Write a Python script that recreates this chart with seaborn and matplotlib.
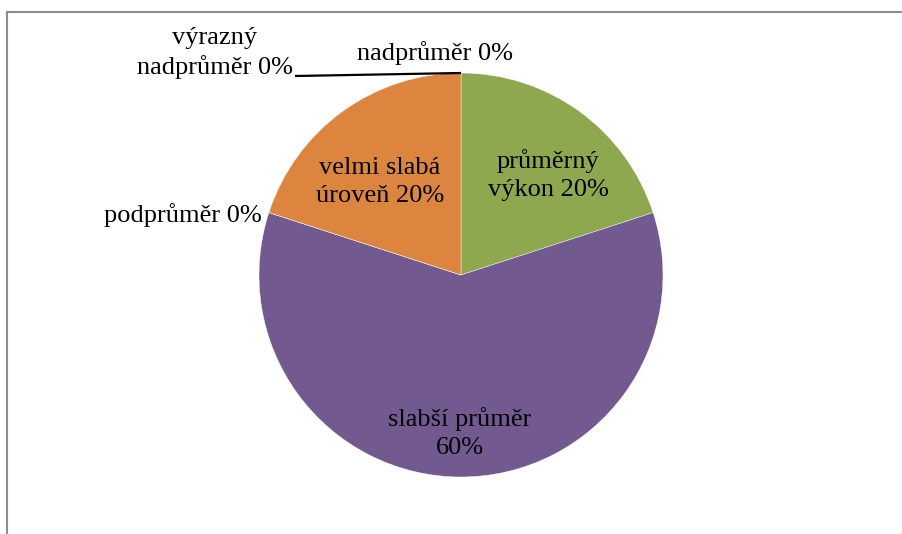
import numpy as np
import matplotlib
matplotlib.use("Agg")
import matplotlib.pyplot as plt
import seaborn as sns
from matplotlib.lines import Line2D

# data (clockwise from 12 o'clock)
categories = ["výrazný nadprůměr", "nadprůměr", "průměrný výkon",
              "slabší průměr", "podprůměr", "velmi slabá úroveň"]
shares = [0, 0, 20, 60, 0, 20]
label_texts = ["výrazný\nnadprůměr", "nadprůměr", "průměrný\nvýkon",
               "slabší průměr\n", "podprůměr", "velmi slabá\núroveň"]
colors = ["#4F81BD", "#C0504D", "#8EA84F", "#725990", "#4BACC6", "#DC853F"]

sns.set_style("white")
plt.rcParams["font.family"] = ["Liberation Serif", "DejaVu Serif"]

W, H = 902, 534
cx, cy, R = 461, 275, 202   # pie centre / radius in pixels

fig = plt.figure(figsize=(W / 100, H / 100), dpi=100)
ax = fig.add_axes([0, 0, 1, 1])

wedges, _ = ax.pie(shares, colors=colors, startangle=90, counterclock=False,
                   radius=1, wedgeprops=dict(edgecolor="white", linewidth=0.3))

ax.set_xlim(-cx / R, (W - cx) / R)
ax.set_ylim(-(H - cy) / R, cy / R)
ax.set_aspect("equal")
ax.axis("off")

total = sum(shares)
pct = [100 * v / total for v in shares]

def px(x, y):
    return (x - cx) / R, (cy - y) / R

# label anchors (pixel positions)
label_pos = [(215, 53, "center"), (435, 53, "center"), (548, 175, "center"),
             (460, 433, "center"), (262, 215, "right"), (380, 182, "center")]

for txt, p, (lx, ly, ha) in zip(label_texts, pct, label_pos):
    if txt.endswith("\n"):
        s = f"{txt}{p:.0f}%"
    else:
        s = f"{txt} {p:.0f}%"
    x, y = px(lx, ly)
    ax.text(x, y, s, ha=ha, va="center", fontsize=19, linespacing=1.35,
            color="black")

# leader line for the first zero slice
x0, y0 = px(295, 76)
ax.plot([x0, 0], [y0, 1.0], color="black", lw=1.6, solid_capstyle="butt")

# chart frame (cropped on right and bottom)
fig.add_artist(Line2D([7 / W, 1], [1 - 12 / H, 1 - 12 / H], color="#8c8c8c", lw=1.5))
fig.add_artist(Line2D([7 / W, 7 / W], [0, 1 - 12 / H], color="#8c8c8c", lw=1.5))

fig.savefig("out.png", dpi=100)
